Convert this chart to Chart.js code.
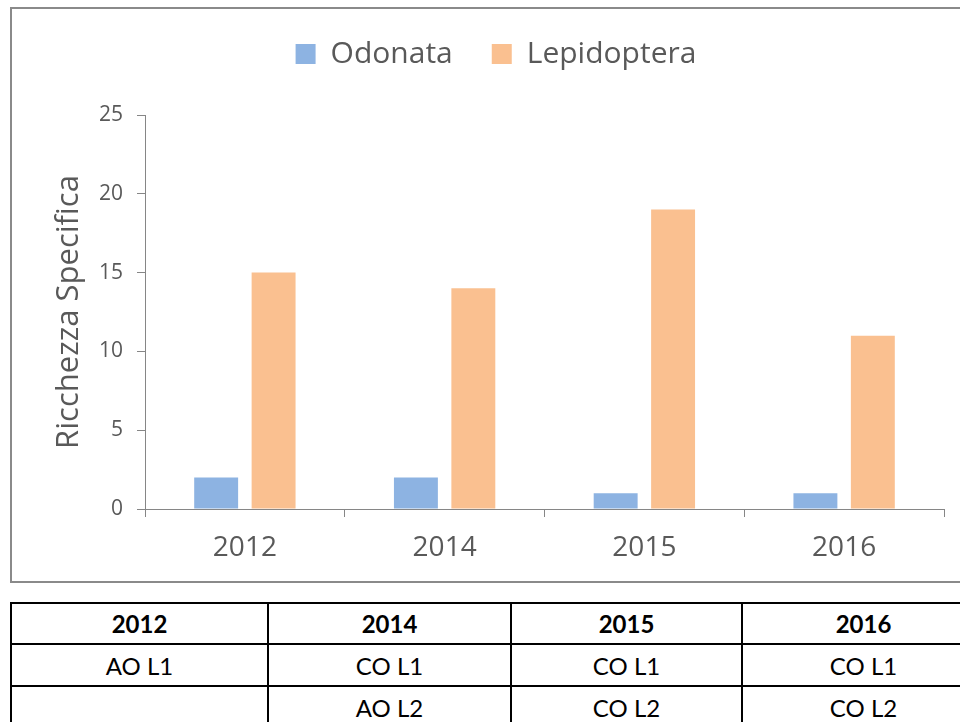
<!DOCTYPE html>
<html>
<head>
<meta charset="utf-8">
<script src="https://cdn.jsdelivr.net/npm/chart.js@4.4.1/dist/chart.umd.min.js"></script>
<style>
  body { margin: 0; background: #fff; width: 960px; height: 722px; overflow: hidden; position: relative; }
  #frame { position: absolute; left: 10px; top: 7px; width: 980px; height: 572px; border: 2px solid #8a8a8a; }
  #chartWrap { position: absolute; left: 0; top: 0; width: 960px; height: 582px; }
  #sites { position: absolute; left: 10px; top: 602px; width: 974px; border-collapse: collapse; font-family: Lato, sans-serif; font-size: 24px; color: #000; table-layout: fixed; }
  #sites td, #sites th { border: 2px solid #000; text-align: center; height: 40px; padding: 0; }
  #sites th { font-weight: bold; height: 39px; }
</style>
</head>
<body>
<div id="frame"></div>
<div id="chartWrap"><canvas id="myChartbar"></canvas></div>
<table id="sites"></table>
<script>
// anni e specie censite
const years = ['2012', '2014', '2015', '2016'];
const odonata = [2, 2, 1, 1];
const lepidoptera = [15, 14, 19, 11];
const yTicks = [0, 5, 10, 15, 20, 25];

// transetti per anno
const siteRow1 = ['AO L1', 'CO L1', 'CO L1', 'CO L1'];
const siteRow2 = ['', 'AO L2', 'CO L2', 'CO L2'];
const colWidths = [257, 243, 231, 243];

Chart.defaults.font.family = "'Open Sans', sans-serif";
Chart.defaults.color = '#595959';

// spazio in piu' sotto la legenda
const legendGap = {
    id: 'legendGap',
    beforeInit(chart) {
        if (!chart.legend) return;
        const fit = chart.legend.fit;
        chart.legend.fit = function () {
            fit.bind(chart.legend)();
            this.height += 36;
        };
    }
};

let bar = document.getElementById('myChartbar').getContext('2d');
let myBarChart = new Chart(bar, {
    type: 'bar',
    data: {
        labels: years,
        datasets: [{
            label: 'Odonata',
            data: odonata,
            backgroundColor: '#8db3e2'
        }, {
            label: 'Lepidoptera',
            data: lepidoptera,
            backgroundColor: '#fac090'
        }]
    },
    options: {
        responsive: true,
        maintainAspectRatio: false,
        animation: false,
        layout: { padding: { left: 48, right: 16, top: 0, bottom: 0 } },
        datasets: { bar: { categoryPercentage: 0.575, barPercentage: 0.765 } },
        plugins: {
            tooltip: { enabled: false },
            legend: {
                position: 'top',
                labels: { boxWidth: 20, boxHeight: 20, padding: 39, font: { size: 30 } }
            }
        },
        scales: {
            x: {
                grid: { drawOnChartArea: false, drawTicks: true, tickLength: 8, color: '#868686' },
                border: { color: '#868686' },
                ticks: { font: { size: 28 }, padding: 14 },
                afterFit(scale) { scale.height = 73; }
            },
            y: {
                min: 0,
                max: 25,
                grid: { drawOnChartArea: false, drawTicks: true, tickLength: 8, color: '#868686' },
                border: { color: '#868686' },
                ticks: {
                    font: { size: 21 },
                    padding: 14,
                    stepSize: 5,
                    callback: (v) => yTicks.includes(v) ? String(v) : ''
                },
                title: {
                    display: true,
                    text: 'Ricchezza Specifica',
                    font: { size: 31 },
                    padding: { top: 3, bottom: 0 }
                },
                afterFit(scale) { scale.width = 97; }
            }
        }
    },
    plugins: [legendGap]
});

// tabella dei siti sotto il grafico
const table = document.getElementById('sites');
const colgroup = document.createElement('colgroup');
colWidths.forEach(w => {
    const col = document.createElement('col');
    col.style.width = w + 'px';
    colgroup.appendChild(col);
});
table.appendChild(colgroup);
[years, siteRow1, siteRow2].forEach((row, i) => {
    const tr = document.createElement('tr');
    row.forEach(txt => {
        const cell = document.createElement(i === 0 ? 'th' : 'td');
        cell.textContent = txt;
        tr.appendChild(cell);
    });
    table.appendChild(tr);
});
</script>
</body>
</html>
